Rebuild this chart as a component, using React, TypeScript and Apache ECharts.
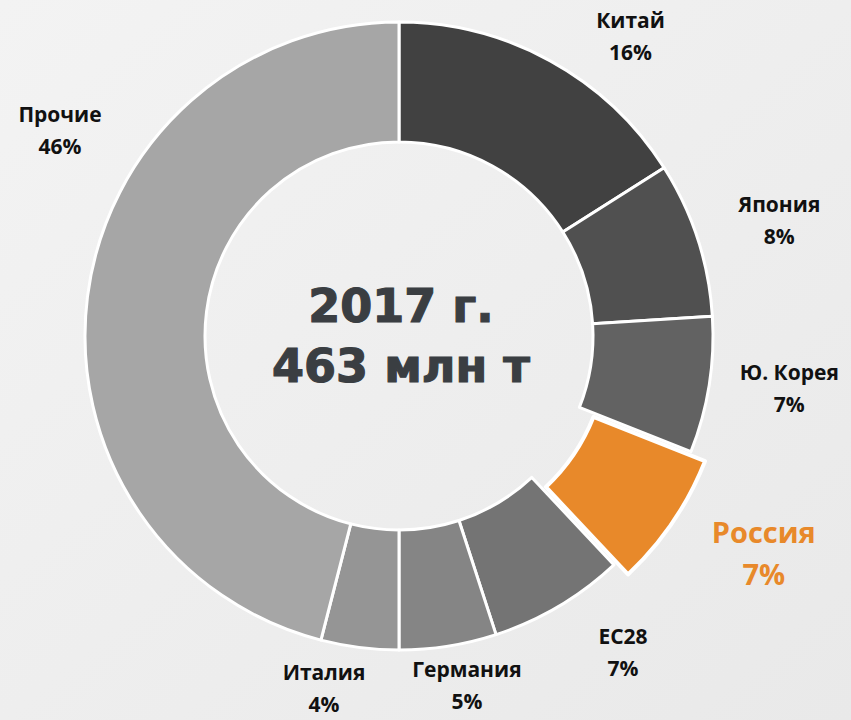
import React, { useEffect, useRef } from "react";
import * as echarts from "echarts";

const categories = ["Китай", "Япония", "Ю. Корея", "Россия", "ЕС28", "Германия", "Италия", "Прочие"];
const shares = [16, 8, 7, 7, 7, 5, 4, 46];
const centerTitle = "2017 г.";
const centerSubtitle = "463 млн т";

// styling
const colors = ["#414141", "#505050", "#626262", "#e8892a", "#747474", "#858585", "#959595", "#a6a6a6"];
const highlightIndex = 3;
const labelNudges: [number, number][] = [
  [47, 36], [16, 2], [12, -8], [48, 1], [29, -14], [8, -29], [-27, -28], [41, -158],
];

export default function App() {
  const ref = useRef<HTMLDivElement>(null);
  useEffect(() => {
    if (!ref.current) return;
    const chart = echarts.init(ref.current, undefined, { renderer: "svg" });
    const center = [399, 336];
    const donutData = categories.map((name, i) => ({
      name,
      value: shares[i],
      selected: i === highlightIndex,
      itemStyle: {
        color: colors[i],
        borderColor: "#ffffff",
        borderWidth: i === highlightIndex ? 4 : 3,
      },
    }));
    const labelData = categories.map((name, i) => {
      const hl = i === highlightIndex;
      return {
        name,
        value: shares[i],
        label: {
          offset: labelNudges[i],
          color: hl ? "#e8892a" : "#111111",
          fontSize: hl ? 29 : 21,
          lineHeight: hl ? 42 : 32,
        },
      };
    });
    chart.setOption({
      animation: false,
      backgroundColor: {
        type: "linear", x: 0, y: 0, x2: 1, y2: 1,
        colorStops: [
          { offset: 0, color: "#f3f3f3" },
          { offset: 1, color: "#e9e9e9" },
        ],
      },
      graphic: [
        {
          type: "text",
          x: 401,
          y: 336,
          style: {
            text: centerTitle + "\n" + centerSubtitle,
            fill: "#3a3e42",
            font: "bold 46px 'Arial Black', 'DejaVu Sans', sans-serif",
            lineHeight: 60,
            align: "center",
            verticalAlign: "middle",
            stroke: "#3a3e42",
            lineWidth: 1.2,
          },
        },
      ],
      series: [
        {
          type: "pie",
          center,
          radius: [194, 314],
          startAngle: 90,
          clockwise: true,
          selectedMode: "single",
          selectedOffset: 17,
          silent: true,
          label: { show: false },
          labelLine: { show: false },
          data: donutData,
        },
        {
          type: "pie",
          center,
          radius: [360, 400],
          startAngle: 90,
          clockwise: true,
          silent: true,
          itemStyle: { color: "transparent" },
          label: {
            show: true,
            position: "inside",
            formatter: "{b}\n{c}%",
            fontFamily: "'Open Sans', 'Noto Sans', sans-serif",
            fontWeight: "bold",
            align: "center",
          },
          labelLine: { show: false },
          data: labelData,
        },
      ],
    });
    return () => chart.dispose();
  }, []);
  return (
    <div
      ref={ref}
      style={{ position: "absolute", left: 0, top: 0, width: 851, height: 720 }}
    />
  );
}
